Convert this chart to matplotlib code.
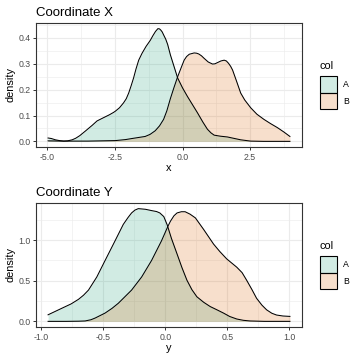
import matplotlib
matplotlib.use("Agg")
import matplotlib.pyplot as plt
from matplotlib.patches import Rectangle
from matplotlib.ticker import MultipleLocator

plt.rcParams["font.family"] = ["Liberation Sans", "DejaVu Sans"]

GREEN = "#1B9E77"
ORANGE = "#D95F02"
GRID = "#EBEBEB"
BORDER = "#333333"
TICKTXT = "#4D4D4D"

# Coordinate X densities
x_a = [-4.97, -4.85, -4.70, -4.55, -4.39, -4.25, -4.08, -3.95, -3.80, -3.59, -3.34, -3.16,
       -2.97, -2.70, -2.55, -2.48, -2.33, -2.18, -2.08, -1.99, -1.90, -1.81, -1.72, -1.62,
       -1.50, -1.35, -1.19, -1.10, -1.00, -0.91, -0.85, -0.80, -0.75, -0.70, -0.62, -0.55,
       -0.45, -0.18, 0.00, 0.18, 0.55, 0.75, 0.92, 1.05, 1.17, 1.40, 1.66, 2.15, 2.52,
       3.00, 3.50, 3.97]
d_a = [0.013, 0.011, 0.006, 0.003, 0.001, 0.002, 0.006, 0.012, 0.022, 0.040, 0.062, 0.079,
       0.089, 0.103, 0.112, 0.117, 0.130, 0.149, 0.165, 0.187, 0.215, 0.245, 0.280, 0.314,
       0.340, 0.367, 0.391, 0.408, 0.425, 0.436, 0.435, 0.430, 0.423, 0.412, 0.395, 0.375,
       0.335, 0.245, 0.207, 0.174, 0.111, 0.075, 0.047, 0.033, 0.024, 0.020, 0.017, 0.006,
       0.001, 0.000, 0.000, 0.000]
x_b = [-4.97, -4.40, -3.50, -2.48, -2.10, -1.87, -1.38, -1.20, -1.01, -0.85, -0.70, -0.58,
       -0.45, -0.32, -0.18, -0.05, 0.06, 0.15, 0.25, 0.43, 0.52, 0.60, 0.70, 0.80, 0.95,
       1.11, 1.20, 1.30, 1.42, 1.54, 1.62, 1.70, 1.78, 1.85, 2.00, 2.15, 2.30, 2.52, 2.75,
       3.01, 3.25, 3.51, 3.75, 3.97]
d_b = [0.002, 0.001, 0.001, 0.003, 0.007, 0.011, 0.019, 0.027, 0.041, 0.060, 0.085, 0.118,
       0.165, 0.207, 0.250, 0.285, 0.314, 0.328, 0.337, 0.342, 0.341, 0.338, 0.331, 0.321,
       0.307, 0.299, 0.300, 0.305, 0.311, 0.314, 0.311, 0.302, 0.290, 0.276, 0.232, 0.187,
       0.160, 0.130, 0.105, 0.085, 0.069, 0.053, 0.036, 0.019]

# Coordinate Y densities
y_a = [-0.946, -0.834, -0.76, -0.70, -0.66, -0.62, -0.553, -0.486, -0.406, -0.339, -0.30,
       -0.272, -0.245, -0.218, -0.16, -0.111, -0.07, -0.044, -0.012, 0.015, 0.05, 0.095,
       0.135, 0.175, 0.215, 0.255, 0.31, 0.363, 0.42, 0.47, 0.52, 0.577, 0.63, 0.684, 0.80,
       1.006]
e_a = [0.081, 0.162, 0.215, 0.272, 0.322, 0.385, 0.546, 0.749, 0.990, 1.194, 1.280,
       1.335, 1.370, 1.388, 1.380, 1.364, 1.352, 1.335, 1.290, 1.190, 1.020, 0.830,
       0.660, 0.506, 0.390, 0.303, 0.235, 0.182, 0.140, 0.102, 0.060, 0.029, 0.013, 0.005,
       0.000, 0.000]
y_b = [-0.946, -0.80, -0.70, -0.647, -0.60, -0.566, -0.486, -0.43, -0.379, -0.272, -0.191,
       -0.111, -0.031, 0.022, 0.042, 0.07, 0.095, 0.13, 0.16, 0.20, 0.243, 0.309, 0.39, 0.44,
       0.496, 0.577, 0.62, 0.657, 0.70, 0.737, 0.78, 0.818, 0.86, 0.898, 0.95, 1.006]
e_b = [0.000, 0.000, 0.002, 0.005, 0.020, 0.041, 0.102, 0.160, 0.223, 0.385, 0.546,
       0.749, 0.990, 1.173, 1.234, 1.300, 1.335, 1.350, 1.350, 1.320, 1.274, 1.133, 0.951,
       0.860, 0.769, 0.667, 0.600, 0.506, 0.390, 0.284, 0.200, 0.142, 0.100, 0.078, 0.066,
       0.061]

groups = ["A", "B"]


def px(x0, y0, w, h):
    return [x0 / 360, 1 - (y0 + h) / 360, w / 360, h / 360]


def panel(ax, series, title, xlabel, xmaj, ymaj):
    for (xs, ds), c in zip(series, [GREEN, ORANGE]):
        ax.fill_between(xs, ds, 0, color=c, alpha=0.2, linewidth=0, zorder=2)
        ax.plot(xs, ds, color="black", linewidth=0.75, zorder=3, solid_joinstyle="round")
    allx = [v for xs, _ in series for v in xs]
    ally = [v for _, ds in series for v in ds]
    xr = max(allx) - min(allx)
    ax.set_xlim(min(allx) - 0.05 * xr, max(allx) + 0.05 * xr)
    ax.set_ylim(-0.05 * max(ally), 1.05 * max(ally))
    ax.xaxis.set_major_locator(MultipleLocator(xmaj))
    ax.xaxis.set_minor_locator(MultipleLocator(xmaj / 2))
    ax.yaxis.set_major_locator(MultipleLocator(ymaj))
    ax.yaxis.set_minor_locator(MultipleLocator(ymaj / 2))
    ax.grid(which="major", color=GRID, linewidth=0.8, zorder=0)
    ax.grid(which="minor", color=GRID, linewidth=0.4, zorder=0)
    ax.set_axisbelow(True)
    for s in ax.spines.values():
        s.set_color(BORDER)
        s.set_linewidth(0.8)
    ax.tick_params(which="major", length=2.5, width=0.7, color=BORDER,
                   labelsize=6.3, labelcolor=TICKTXT, pad=1.5)
    ax.tick_params(which="minor", length=0)
    fmt = plt.FuncFormatter(lambda v, p: f"{v:.1f}")
    ax.xaxis.set_major_formatter(fmt)
    ax.yaxis.set_major_formatter(fmt)
    ax.set_title(title, loc="left", fontsize=9.5, pad=5)
    ax.set_xlabel(xlabel, fontsize=7.9, labelpad=1)
    ax.set_ylabel("density", fontsize=7.9, labelpad=2)


def legend(fig, top):
    fig.text(320 / 360, 1 - top / 360, "col", fontsize=7.9, va="center", ha="left")
    for i, (g, c) in enumerate(zip(groups, [GREEN, ORANGE])):
        y0 = top + 10 + i * 16.7
        fig.patches.append(Rectangle((320 / 360, 1 - (y0 + 16.7) / 360), 17 / 360, 16.7 / 360,
                                     transform=fig.transFigure, facecolor=c, alpha=0.2,
                                     edgecolor="none"))
        fig.patches.append(Rectangle((320 / 360, 1 - (y0 + 16.7) / 360), 17 / 360, 16.7 / 360,
                                     transform=fig.transFigure, facecolor="none",
                                     edgecolor="black", linewidth=0.8))
        fig.text(343 / 360, 1 - (y0 + 8.3) / 360, g, fontsize=6.3, va="center", ha="left")


fig = plt.figure(figsize=(3.6, 3.6), dpi=100)
ax1 = fig.add_axes(px(36, 23, 266, 124))
ax2 = fig.add_axes(px(36, 203, 266, 124))
panel(ax1, [(x_a, d_a), (x_b, d_b)], "Coordinate X", "x", 2.5, 0.1)
panel(ax2, [(y_a, e_a), (y_b, e_b)], "Coordinate Y", "y", 0.5, 0.5)
legend(fig, 66)
legend(fig, 246)
fig.savefig("out.png", dpi=100, facecolor="white")
